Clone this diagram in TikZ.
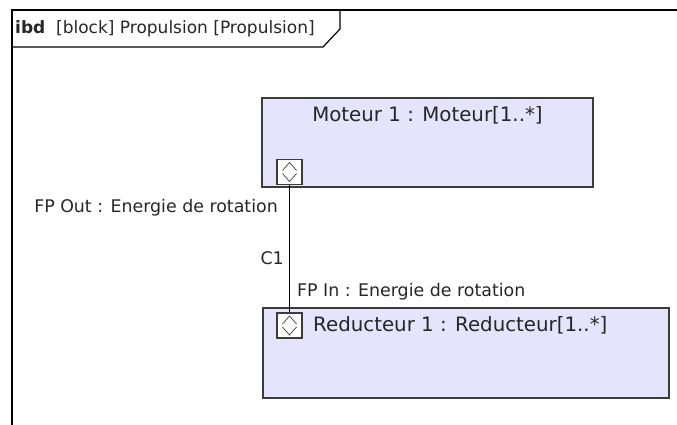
\documentclass[tikz,border=0pt]{standalone}
\usepackage{fontspec}
\setmainfont{DejaVu Sans}
\usepackage{xcolor}
\usetikzlibrary{positioning}
\definecolor{blockfill}{RGB}{228,228,252}
\definecolor{blockline}{RGB}{60,60,60}

\begin{document}
\begin{tikzpicture}[
          x=1pt, y=-1pt,
          every node/.style={inner sep=0pt},
          partbox/.style={draw=blockline, line width=1.4pt, fill=blockfill},
          portbox/.style={draw=blockline, line width=1.1pt, fill=white,
            minimum width=25pt, minimum height=25pt,
            path picture={
              \draw[blockline, line width=0.7pt]
                ([xshift=-7pt,yshift=1.5pt]path picture bounding box.center) -- ++(7pt,8pt) -- ++(7pt,-8pt)
                ([xshift=-7pt,yshift=-1.5pt]path picture bounding box.center) -- ++(7pt,-8pt) -- ++(7pt,8pt);
            }},
          title/.style={font=\fontsize{19.8}{22}\selectfont, text=black!85},
          label/.style={font=\fontsize{17.4}{19}\selectfont, text=black!85}
        ]
          \useasboundingbox (0,0) rectangle (677,425);

          % Frame and its header tab
          \draw[line width=1.5pt] (12,425) -- (12,10) -- (677,10);
          \draw[line width=1.2pt] (12,47) -- (323,47) -- (340,29) -- (340,10);
          \node[label, anchor=west, font=\fontsize{17}{19}\selectfont] (header) at (15,29) {\textbf{ibd}\ \ [block] Propulsion [Propulsion]};

          % Parts
          \node[partbox, minimum width=331pt, minimum height=89pt] (moteur) at (427.5,142.5) {};
          \node[title] (moteurtitle) at (427.5,115) {Moteur 1 : Moteur[1..*]};

          \node[partbox, minimum width=406pt, minimum height=90pt] (reducteur) at (466,353) {};
          \node[title, anchor=west] (reducteurtitle) at (313,325) {Reducteur 1 : Reducteur[1..*]};

          % Ports
          \node[portbox] (out) at (289.5,172) {};
          \node[portbox] (in) at (289.5,325.5) {};

          % Connector
          \draw[line width=1.5pt] (out.south) -- (in.north);

          % Labels
          \node[label, anchor=east] (outlabel) at (278,208) {FP Out : Energie de rotation};
          \node[label, anchor=east] (c1) at (284,258) {C1};
          \node[label, anchor=west] (inlabel) at (297,292) {FP In : Energie de rotation};
        \end{tikzpicture}
\end{document}
